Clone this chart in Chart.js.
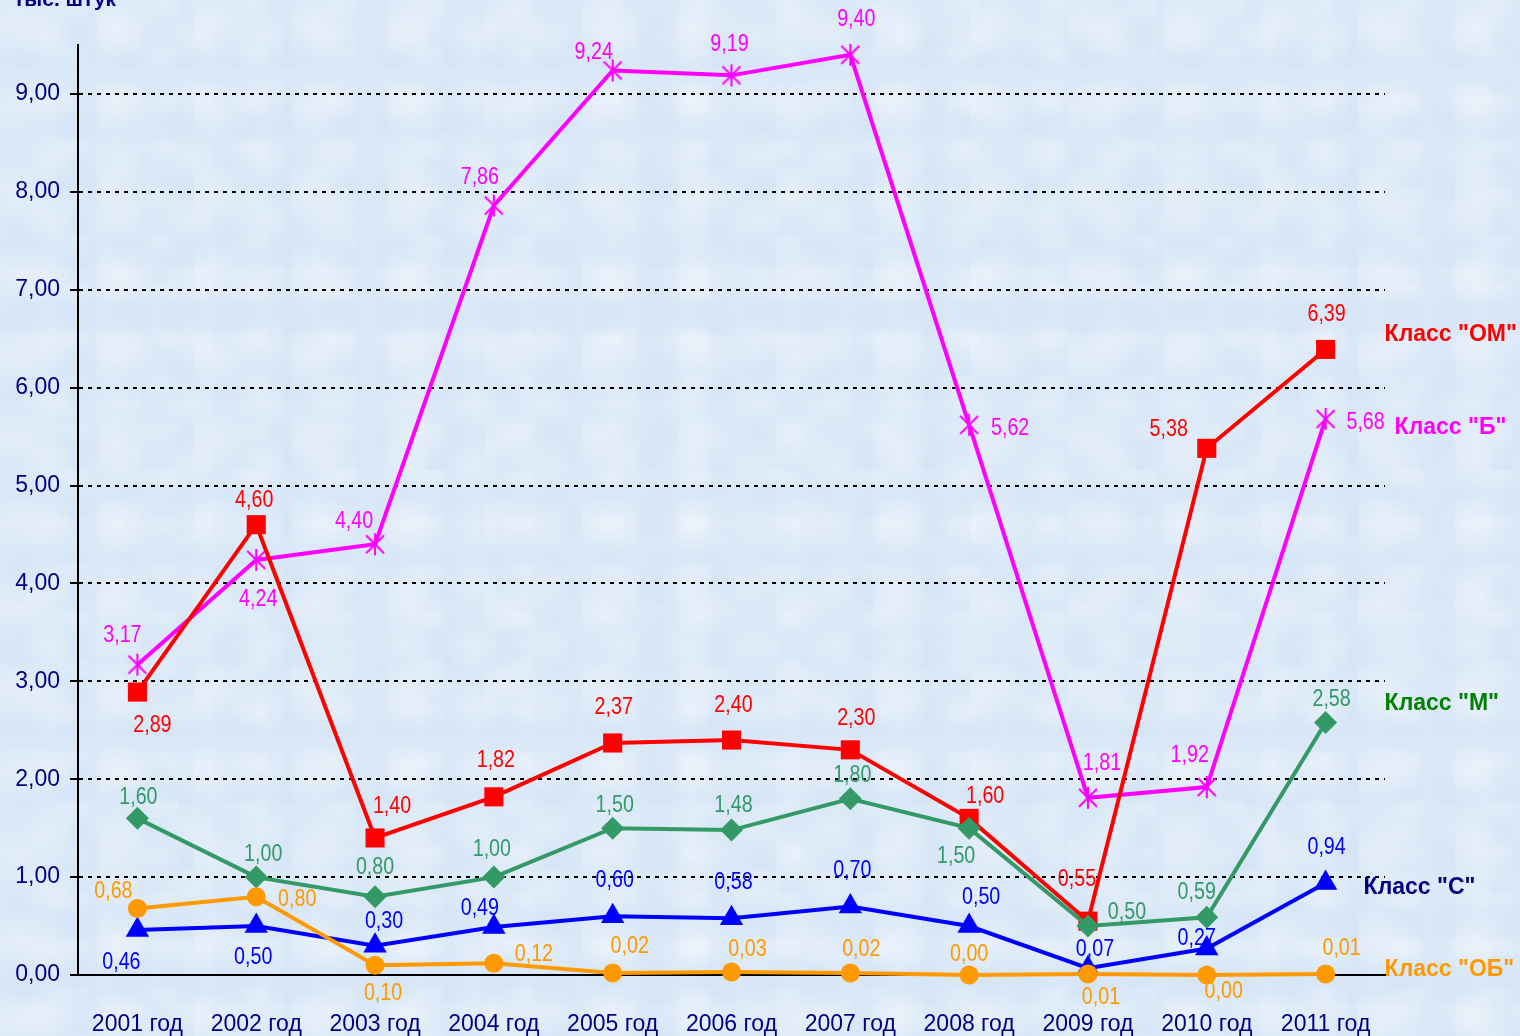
<!DOCTYPE html>
<html>
<head>
<meta charset="utf-8">
<script src="https://cdn.jsdelivr.net/npm/chart.js@4"></script>
<style>
  html, body { margin: 0; padding: 0; }
  body {
    width: 1520px; height: 1036px; overflow: hidden;
    background-color: #dae8f7;
    background-image:
      radial-gradient(ellipse at 20% 30%, rgba(255,255,255,0.30) 0, rgba(255,255,255,0) 45px),
      radial-gradient(ellipse at 70% 60%, rgba(255,255,255,0.25) 0, rgba(255,255,255,0) 35px),
      radial-gradient(ellipse at 45% 85%, rgba(205,222,242,0.30) 0, rgba(205,222,242,0) 30px),
      radial-gradient(ellipse at 85% 15%, rgba(240,246,253,0.35) 0, rgba(240,246,253,0) 30px);
    background-size: 97px 83px, 71px 61px, 53px 67px, 89px 47px;
  }
  #wrap { position: absolute; left: 0; top: 0; width: 1520px; height: 1036px; }
</style>
</head>
<body>
<div id="wrap"><canvas id="chart" width="1520" height="1036"></canvas></div>
<script>
// ---------------------------------------------------------------
// Данные
// ---------------------------------------------------------------
const years = ["2001 год", "2002 год", "2003 год", "2004 год", "2005 год", "2006 год",
               "2007 год", "2008 год", "2009 год", "2010 год", "2011 год"];

const seriesNames = ['Класс "ОМ"', 'Класс "Б"', 'Класс "М"', 'Класс "С"', 'Класс "ОБ"'];

const classOM = [2.89, 4.60, 1.40, 1.82, 2.37, 2.40, 2.30, 1.60, 0.55, 5.38, 6.39];
const classB  = [3.17, 4.24, 4.40, 7.86, 9.24, 9.19, 9.40, 5.62, 1.81, 1.92, 5.68];
const classM  = [1.60, 1.00, 0.80, 1.00, 1.50, 1.48, 1.80, 1.50, 0.50, 0.59, 2.58];
const classC  = [0.46, 0.50, 0.30, 0.49, 0.60, 0.58, 0.70, 0.50, 0.07, 0.27, 0.94];
const classOB = [0.68, 0.80, 0.10, 0.12, 0.02, 0.03, 0.02, 0.00, 0.01, 0.00, 0.01];

const yTicks = [0, 1, 2, 3, 4, 5, 6, 7, 8, 9];
const yMax = 9.5;

// ---------------------------------------------------------------
// Смещения подписей значений (dx, dy от точки)
// ---------------------------------------------------------------
const offOM = [[15,32],[-2,-25],[17,-33],[2,-37],[1,-37],[2,-36],[6,-32],[16,-23],[-11,-43],[-38,-20],[1,-36]];
const offB  = [[-15,-30],[2,38],[-21,-24],[-14,-29],[-19,-19],[-2,-32],[6,-36],[41,3],[14,-35],[-17,-33],[40,2]];
const offM  = [[1,-22],[7,-24],[0,-30],[-2,-29],[2,-24],[2,-26],[2,-24],[-13,27],[39,-15],[-10,-26],[6,-24]];
const offC  = [[-16,31],[-3,30],[9,-25],[-14,-20],[2,-37],[2,-37],[2,-37],[12,-30],[7,-20],[-10,-11],[1,-37]];
const offOB = [[-24,-18],[41,2],[8,27],[40,-10],[17,-28],[16,-24],[11,-25],[0,-22],[13,22],[17,15],[16,-27]];

// Маркер "звёздочка" как в Excel (вертикаль + крест)
function makeStar(color) {
    const c = document.createElement("canvas");
    c.width = 24; c.height = 24;
    const g = c.getContext("2d");
    g.strokeStyle = color;
    g.lineWidth = 2;
    g.beginPath();
    g.moveTo(12, 1); g.lineTo(12, 23);
    g.moveTo(3, 3); g.lineTo(21, 21);
    g.moveTo(21, 3); g.lineTo(3, 21);
    g.stroke();
    return c;
}

// узкий шрифт подписей (как Arial Narrow): Liberation Sans, сжатый по ширине
const labelFont = '24px "Liberation Sans", Arial, sans-serif';
const labelScaleX = 0.82;
const nameFont = 'bold 23px "Liberation Sans", Arial, sans-serif';
const axisFont = { family: '"Liberation Sans", Arial, sans-serif', size: 23 };

// порядок: первый рисуется поверх
const datasets = [
    { label: seriesNames[4], data: classOB, borderColor: "#FF9900", backgroundColor: "#FF9900",
      pointStyle: "circle", pointRadius: 9.5, labelColor: "#FF9900", nameColor: "#FF9900",
      offsets: offOB, nameOff: [59, -4] },
    { label: seriesNames[2], data: classM, borderColor: "#339966", backgroundColor: "#339966",
      pointStyle: "rectRot", pointRadius: 11.5, labelColor: "#339966", nameColor: "#008000",
      offsets: offM, nameOff: [59, -19] },
    { label: seriesNames[3], data: classC, borderColor: "#0000FF", backgroundColor: "#0000FF",
      pointStyle: "triangle", pointRadius: 13.5, labelColor: "#0000FF", nameColor: "#000080",
      offsets: offC, nameOff: [38, 5] },
    { label: seriesNames[0], data: classOM, borderColor: "#FF0000", backgroundColor: "#FF0000",
      pointStyle: "rect", pointRadius: 13.5, labelColor: "#FF0000", nameColor: "#FF0000",
      offsets: offOM, nameOff: [59, -15] },
    { label: seriesNames[1], data: classB, borderColor: "#FF00FF", backgroundColor: "#FF00FF",
      pointStyle: makeStar("#FF00FF"), pointRadius: 12, labelColor: "#FF00FF", nameColor: "#FF00FF",
      offsets: offB, nameOff: [69, 9] }
].map(d => Object.assign(d, {
    borderWidth: 4,
    pointBorderWidth: 0,
    pointHoverRadius: d.pointRadius,
    tension: 0,
    clip: false
}));

// ---------------------------------------------------------------
// Подписи значений, названия рядов, заголовок оси
// ---------------------------------------------------------------
const labelsPlugin = {
    id: "labelsPlugin",
    afterDatasetsDraw(chart) {
        const ctx = chart.ctx;
        ctx.save();
        ctx.textBaseline = "middle";
        chart.data.datasets.forEach((ds, di) => {
            const meta = chart.getDatasetMeta(di);
            ctx.font = labelFont;
            ctx.fillStyle = ds.labelColor;
            ctx.textAlign = "center";
            meta.data.forEach((pt, i) => {
                const [dx, dy] = ds.offsets[i];
                ctx.save();
                ctx.translate(pt.x + dx, pt.y + dy + 1);
                ctx.scale(labelScaleX, 1);
                ctx.fillText(ds.data[i].toFixed(2).replace(".", ","), 0, 0);
                ctx.restore();
            });
            const last = meta.data[meta.data.length - 1];
            ctx.font = nameFont;
            ctx.fillStyle = ds.nameColor;
            ctx.textAlign = "left";
            ctx.fillText(ds.label, last.x + ds.nameOff[0], last.y + ds.nameOff[1]);
        });
        ctx.font = 'bold 21px "Liberation Sans", Arial, sans-serif';
        ctx.fillStyle = "#000080";
        ctx.textAlign = "left";
        ctx.textBaseline = "alphabetic";
        ctx.fillText("тыс. штук", 14, 6);
        ctx.restore();
    }
};

new Chart(document.getElementById("chart"), {
    type: "line",
    data: { labels: years, datasets: datasets },
    options: {
        responsive: false,
        devicePixelRatio: 1,
        animation: false,
        layout: { padding: { top: 45, right: 135, left: 0, bottom: 0 } },
        plugins: { legend: { display: false }, tooltip: { enabled: false } },
        scales: {
            x: {
                offset: true,
                grid: { display: false, drawTicks: false },
                border: { display: true, color: "#000000", width: 2 },
                ticks: {
                    color: "#000080",
                    font: axisFont,
                    padding: 36,
                    maxRotation: 0, autoSkip: false
                },
                afterFit(scale) { scale.height = 61; }
            },
            y: {
                min: 0,
                max: yMax,
                afterBuildTicks(scale) { scale.ticks = yTicks.map(v => ({ value: v })); },
                grid: {
                    color: "#000000",
                    lineWidth: 2,
                    tickLength: 8,
                    tickBorderDash: [],
                    tickColor: "#000000",
                    tickWidth: 2
                },
                border: { display: true, color: "#000000", width: 2, dash: [4, 5] },
                ticks: {
                    color: "#000080",
                    font: axisFont,
                    padding: 10,
                    callback: v => v.toFixed(2).replace(".", ",")
                },
                afterFit(scale) { scale.width = 78; }
            }
        }
    },
    plugins: [labelsPlugin]
});
</script>
</body>
</html>
